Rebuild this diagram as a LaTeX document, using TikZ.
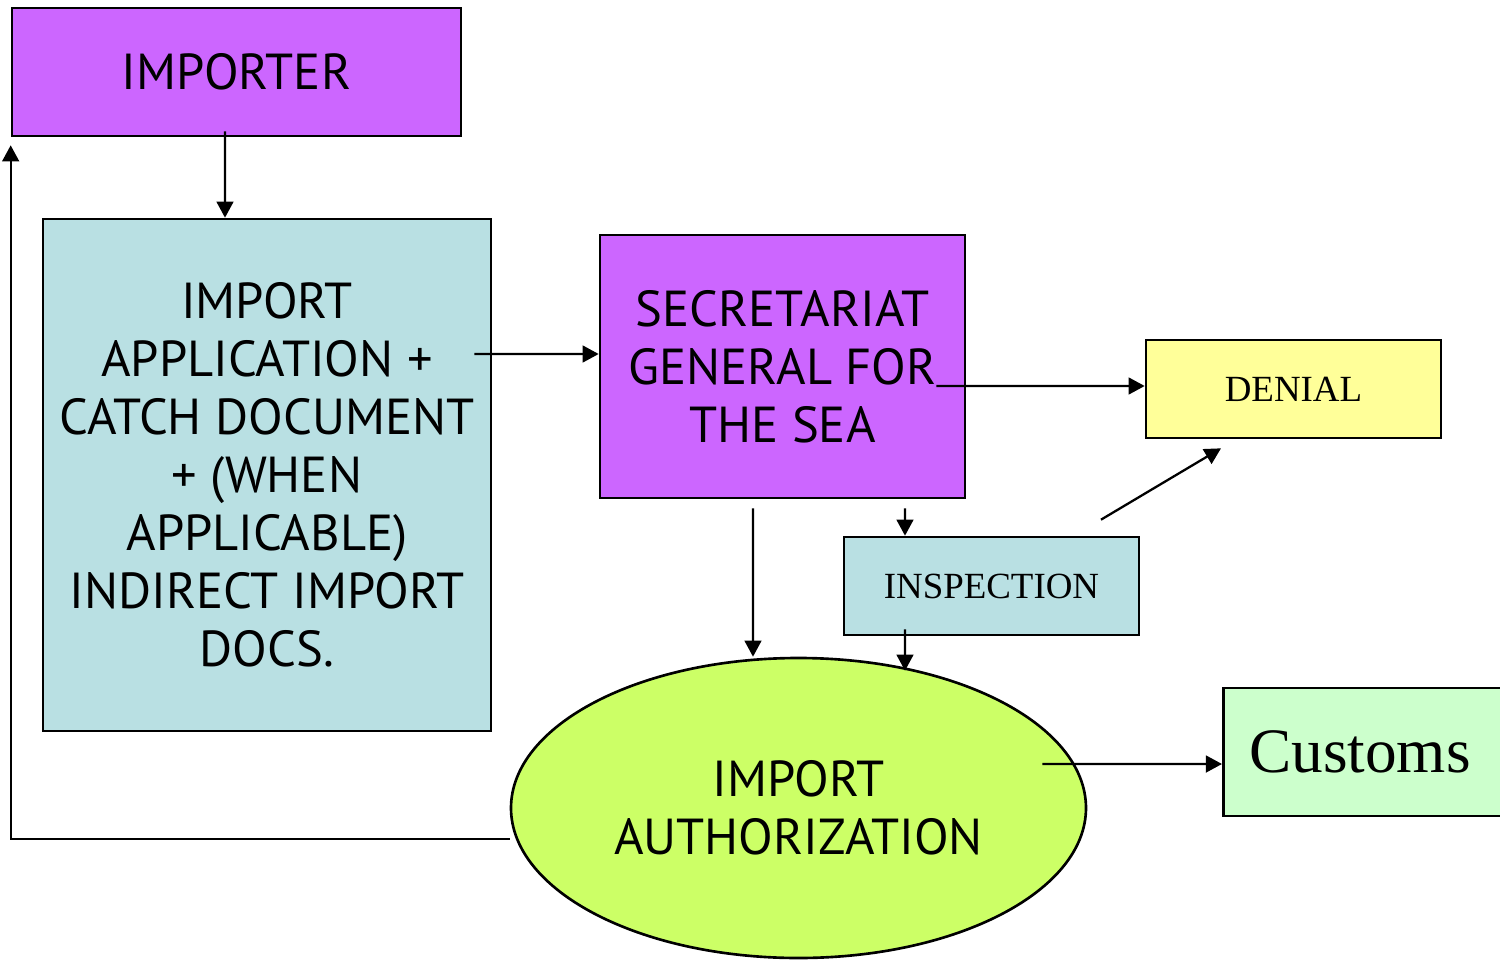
\documentclass[tikz,border=0pt]{standalone}
\usepackage{fontspec}
\setmainfont{PT Sans}
\newfontfamily\serifface{Liberation Serif}
\usetikzlibrary{arrows.meta,shapes.geometric}
\definecolor{agency}{HTML}{CC66FF}
\definecolor{paper}{HTML}{B9E0E3}
\definecolor{refusal}{HTML}{FFFF99}
\definecolor{permit}{HTML}{CCFF66}
\definecolor{border}{HTML}{CCFFCC}
\newcommand{\bigsans}{\fontsize{14.4}{16.5}\selectfont}

\begin{document}
\begin{tikzpicture}[
  box/.style={draw=black, line width=0.75pt, align=center, inner sep=0pt},
  flow/.style={-{Triangle[length=4.6pt,width=4.8pt]}, line width=0.65pt}]
\useasboundingbox (0,0) rectangle (15,-9.61);

\node[box, fill=agency, minimum width=4.49cm, minimum height=1.28cm, font=\bigsans]
  (importer) at (2.365,-0.72) {IMPORTER};
\node[box, fill=paper, minimum width=4.48cm, minimum height=5.12cm, font=\bigsans]
  (application) at (2.67,-4.75) {IMPORT\\ APPLICATION +\\ CATCH DOCUMENT\\
   + (WHEN\\ APPLICABLE)\\ INDIRECT IMPORT\\ DOCS.};
\node[box, fill=agency, minimum width=3.65cm, minimum height=2.63cm, font=\bigsans]
  (secretariat) at (7.825,-3.665) {SECRETARIAT\\ GENERAL FOR\\ THE SEA};
\node[box, fill=refusal, minimum width=2.95cm, minimum height=0.98cm,
  font=\serifface\fontsize{10.5}{12}\selectfont]
  (denial) at (12.935,-3.89) {DENIAL};
\node[box, fill=paper, minimum width=2.95cm, minimum height=0.98cm,
  font=\serifface\fontsize{10.5}{12}\selectfont]
  (inspection) at (9.915,-5.86) {INSPECTION};
\node[box, ellipse, fill=permit, minimum width=5.75cm, minimum height=3cm, font=\bigsans]
  (authorization) at (7.985,-8.08) {IMPORT\\ AUTHORIZATION};
\node[box, fill=border, anchor=west, minimum height=1.28cm, text width=2.5cm,
  align=left, inner xsep=0.26cm, font=\serifface\fontsize{18}{20}\selectfont]
  (customs) at (12.22,-7.52) {Customs};

\draw[flow] ([xshift=-1.15mm,yshift=0.6mm]importer.south) -- ([xshift=-4.2mm]application.north);
\draw[flow] ([xshift=-1.8mm,yshift=12.1mm]application.east) -- ([yshift=1.25mm]secretariat.west);
\draw[flow] ([xshift=-3mm,yshift=-1.95mm]secretariat.east) -- ([yshift=0.3mm]denial.west);
\draw[flow] ([xshift=-2.95mm,yshift=-0.9mm]secretariat.south) -- ([xshift=-4.55mm]authorization.north);
\draw[flow] ([xshift=12.25mm,yshift=-0.9mm]secretariat.south) -- ([xshift=-8.65mm]inspection.north);
\draw[flow] ([xshift=10.95mm,yshift=1.6mm]inspection.north) -- ([xshift=-7.25mm,yshift=-0.9mm]denial.south);
\draw[flow] ([xshift=-8.65mm,yshift=0.7mm]inspection.south) -- ([xshift=10.65mm,yshift=-1.4mm]authorization.north);
\draw[flow] ([xshift=-4.5mm,yshift=4.4mm]authorization.east) -- ([yshift=-1.2mm]customs.west);
\draw[flow] ([yshift=-3.1mm]authorization.west) -| ([yshift=-0.8mm]importer.south west);
\end{tikzpicture}
\end{document}
